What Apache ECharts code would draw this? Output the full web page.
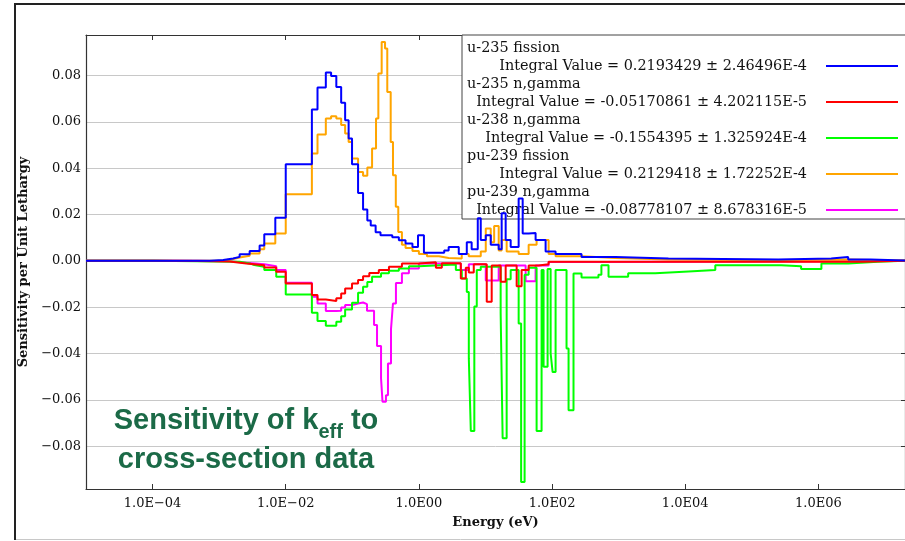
<!DOCTYPE html>
<html><head><meta charset="utf-8">
<script src="https://cdn.jsdelivr.net/npm/echarts@6/dist/echarts.min.js"></script>
<style>html,body{margin:0;padding:0;background:#fff}#c{width:905px;height:541px}</style>
</head><body><div id="c"></div>
<script>
// ---- data (energy group lower bound in eV, sensitivity per unit lethargy) ----
const energyMin = 1e-5;
const energyMax = 2e7;

const seriesNames = ['u-235 fission', 'u-235 n,gamma', 'u-238 n,gamma', 'pu-239 fission', 'pu-239 n,gamma'];
const seriesColors = ['#0000ff', '#ff0000', '#00ff00', '#ffa500', '#ff00ff'];
const integralValues = ['0.2193429 ± 2.46496E-4', '-0.05170861 ± 4.202115E-5', '-0.1554395 ± 1.325924E-4', '0.2129418 ± 1.72252E-4', '-0.08778107 ± 8.678316E-5'];

const u235Fission = [[1e-5,0],[7.2e-4,0.0004],[1.15e-3,0.0010],[1.62e-3,0.0017],[2.03e-3,0.0028],[2.87e-3,0.0042],[4.05e-3,0.0066],[4.76e-3,0.0115],[6.97e-3,0.0186],[0.01,0.0417],[0.0247,0.0653],[0.030,0.0748],[0.040,0.0813],[0.048,0.0798],[0.0575,0.0751],[0.068,0.0682],[0.078,0.0607],[0.088,0.0528],[0.099,0.0417],[0.122,0.0293],[0.145,0.0222],[0.168,0.0174],[0.189,0.0153],[0.224,0.0123],[0.265,0.0111],[0.398,0.0102],[0.5,0.0089],[0.63,0.0075],[0.8,0.0060],[0.97,0.0110],[1.19,0.0035],[2.4,0.0045],[2.8,0.0060],[3.97,0.0030],[5.24,0.0080],[6.2,0.0050],[7.66,0.0184],[8.49,0.0090],[10.1,0.0110],[12.0,0.0070],[15.8,0.0050],[17.5,0.0205],[20.1,0.0090],[23.9,0.0060],[31.5,0.0269],[36.2,0.0118],[44.5,0.0120],[56.6,0.0090],[80,0.0040],[113,0.0030],[277,0.0017],[890,0.0010],[5600,0.0006],[2.5e5,0.0010],[1.56e6,0.0017],[2.8e6,0.0006],[6.1e6,0.0002]];

const u235Capture = [[1e-5,0],[1e-4,-0.0001],[4.6e-4,-0.0003],[1.43e-3,-0.0011],[2.56e-3,-0.0019],[4.76e-3,-0.0029],[7.2e-3,-0.0047],[0.01,-0.0098],[0.0247,-0.0148],[0.030,-0.0167],[0.040,-0.0173],[0.0575,-0.0162],[0.068,-0.0141],[0.078,-0.0119],[0.099,-0.0098],[0.122,-0.0083],[0.145,-0.0066],[0.18,-0.0052],[0.25,-0.0040],[0.355,-0.0026],[0.556,-0.0011],[1.0,-0.0006],[1.8,-0.0030],[2.21,-0.0010],[4.26,-0.0076],[5.06,-0.0030],[5.62,-0.0050],[6.67,-0.0015],[10.45,-0.0177],[12.4,-0.0020],[16.9,-0.0090],[20.1,-0.0020],[29.4,-0.0110],[34.9,-0.0040],[44.5,-0.0020],[62.8,-0.0015],[88.8,-0.0004],[4.6e6,0]];

const u238Capture = [[1e-5,0],[1e-4,-0.0002],[4.6e-4,-0.0004],[2.03e-3,-0.0011],[2.87e-3,-0.0018],[3.37e-3,-0.0026],[4.76e-3,-0.0040],[7.2e-3,-0.0069],[0.01,-0.0145],[0.0247,-0.0224],[0.030,-0.0260],[0.040,-0.0280],[0.0575,-0.0263],[0.068,-0.0239],[0.078,-0.0210],[0.099,-0.0181],[0.122,-0.0138],[0.145,-0.0112],[0.168,-0.0091],[0.198,-0.0069],[0.27,-0.0054],[0.355,-0.0043],[0.5,-0.0033],[0.71,-0.0023],[1.0,-0.0016],[3.59,-0.0040],[4.41,-0.0076],[5.24,-0.0134],[5.62,-0.0420],[6.02,-0.0735],[6.8,-0.0197],[7.4,-0.0040],[8.49,-0.0026],[16.9,-0.0225],[18.1,-0.0766],[20.8,-0.0080],[23.9,-0.0040],[31.5,-0.0270],[34.3,-0.0955],[38.7,-0.0060],[44.5,-0.0030],[58.6,-0.0735],[69.6,-0.0040],[74.6,-0.0457],[85.7,-0.0035],[95.2,-0.0400],[102,-0.0480],[113,-0.0040],[165,-0.0378],[177,-0.0645],[210,-0.0055],[277,-0.0072],[497,-0.0060],[551,-0.0019],[705,-0.0069],[1390,-0.0054],[3540,-0.0046],[1.12e4,-0.0040],[2.83e4,-0.0019],[2.76e5,-0.0023],[5.5e5,-0.0035],[1.11e6,-0.0011],[2.8e6,-0.0004],[7.8e6,0]];

const pu239Fission = [[1e-5,0],[4.6e-4,0.0002],[1.15e-3,0.0008],[1.62e-3,0.0014],[2.03e-3,0.0022],[2.87e-3,0.0032],[4.05e-3,0.0050],[4.76e-3,0.0075],[6.97e-3,0.0118],[0.01,0.0288],[0.0247,0.0463],[0.030,0.0545],[0.040,0.0614],[0.048,0.0624],[0.0575,0.0614],[0.068,0.0586],[0.078,0.0550],[0.088,0.0513],[0.099,0.0442],[0.122,0.0384],[0.145,0.0367],[0.168,0.0403],[0.198,0.0485],[0.227,0.0614],[0.246,0.0809],[0.276,0.0945],[0.31,0.0917],[0.335,0.0729],[0.377,0.0513],[0.408,0.0370],[0.45,0.0233],[0.49,0.0125],[0.556,0.0070],[0.63,0.0055],[0.8,0.0042],[1.0,0.0030],[1.32,0.0020],[2.0,0.0012],[2.8,0.0010],[4.4,0.0030],[5.6,0.0020],[8.5,0.0040],[10.1,0.0140],[12.0,0.0080],[13.5,0.0150],[15.8,0.0045],[17.5,0.0090],[20.8,0.0040],[31.5,0.0030],[44.5,0.0070],[58.6,0.0090],[88.8,0.0030],[113,0.0020],[277,0.0012],[890,0.0006],[5600,0.0004],[2.5e5,0.0006],[2.8e6,0.0004],[6.1e6,0.0001]];

const pu239Capture = [[1e-5,0],[4.6e-4,-0.0002],[1.43e-3,-0.0008],[2.56e-3,-0.0015],[4.76e-3,-0.0023],[7.2e-3,-0.0040],[0.01,-0.0095],[0.0247,-0.0155],[0.030,-0.0184],[0.040,-0.0217],[0.0575,-0.0216],[0.068,-0.0201],[0.078,-0.0191],[0.099,-0.0184],[0.122,-0.0180],[0.145,-0.0187],[0.166,-0.0216],[0.212,-0.0277],[0.235,-0.0368],[0.27,-0.0507],[0.284,-0.0608],[0.32,-0.0580],[0.343,-0.0443],[0.381,-0.0295],[0.408,-0.0184],[0.452,-0.0096],[0.556,-0.0054],[0.708,-0.0033],[1.0,-0.0012],[4.26,-0.0040],[5.62,-0.0015],[10.1,-0.0085],[15.8,-0.0020],[40.1,-0.0088],[56.6,-0.0020],[88.8,-0.0005],[497,-0.0002],[3.9e6,0]];

const seriesData = [u235Fission, u235Capture, u238Capture, pu239Fission, pu239Capture];

// ---- chart ----
const SERIF = 'DejaVu Serif';
const chart = echarts.init(document.getElementById('c'), null, {renderer: 'canvas'});

function withUpperBound(groups) {
  return groups.concat([[energyMax, groups[groups.length - 1][1]]]);
}
function fmtE(v) {
  const e = Math.round(Math.log10(v));
  return '1.0E' + (e < 0 ? '\u2212' : '') + String(Math.abs(e)).padStart(2, '0');
}
function fmtY(v) {
  return (v < -1e-9 ? '\u2212' : '') + Math.abs(v).toFixed(2);
}

const drawOrder = [4, 3, 2, 1, 0];
const series = drawOrder.map(i => ({
  name: seriesNames[i],
  type: 'line',
  step: 'end',
  showSymbol: false,
  color: seriesColors[i],
  lineStyle: {width: 2, color: seriesColors[i]},
  data: withUpperBound(seriesData[i]),
  animation: false,
  z: 2
}));

const axisLineStyle = {color: '#333', width: 1.2};
const xCommon = {
  type: 'log', logBase: 100, min: energyMin, max: energyMax,
  splitLine: {show: false},
  axisLine: {show: true, onZero: false, lineStyle: axisLineStyle},
  axisTick: {show: true, inside: true, length: 5, lineStyle: {color: '#333'}}
};
const yCommon = {
  type: 'value', min: -0.0985, max: 0.0975, splitNumber: 10,
  axisLine: {show: true, onZero: false, lineStyle: axisLineStyle}
};

const LEG_FS = 14.4;
const legendRich = {
  n: {fontFamily: SERIF, fontSize: LEG_FS, lineHeight: 18, color: '#111', align: 'left'},
  v: {fontFamily: SERIF, fontSize: LEG_FS, lineHeight: 18, color: '#111', align: 'right', padding: [0, 14, 0, 0]}
};

chart.setOption({
  animation: false,
  backgroundColor: '#fff',
  grid: {left: 86, right: -2, top: 35, bottom: 52, containLabel: false},
  xAxis: [
    Object.assign({}, xCommon, {
      position: 'bottom',
      name: 'Energy (eV)', nameLocation: 'middle', nameGap: 27,
      nameTextStyle: {fontFamily: SERIF, fontSize: 13, fontWeight: 'bold', color: '#111'},
      axisLabel: {show: true, formatter: fmtE, fontFamily: SERIF, fontSize: 13, color: '#111', margin: 8, showMinLabel: false, showMaxLabel: false}
    }),
    Object.assign({}, xCommon, {position: 'top', axisLabel: {show: false}})
  ],
  yAxis: [
    Object.assign({}, yCommon, {
      position: 'left',
      name: 'Sensitivity per Unit Lethargy', nameLocation: 'middle', nameGap: 53,
      nameTextStyle: {fontFamily: SERIF, fontSize: 13, fontWeight: 'bold', color: '#111'},
      axisTick: {show: false},
      splitLine: {show: true, lineStyle: {color: '#c8c8c8', width: 1}},
      axisLabel: {formatter: fmtY, fontFamily: SERIF, fontSize: 13, color: '#111', margin: 5, showMinLabel: false, showMaxLabel: false}
    }),
    Object.assign({}, yCommon, {
      position: 'right',
      axisTick: {show: true, inside: true, length: 4, lineStyle: {color: '#333'}},
      splitLine: {show: false},
      axisLabel: {show: false}
    })
  ],
  legend: {
    orient: 'vertical', left: 462, top: 35, z: 1,
    data: seriesNames,
    selectedMode: false,
    backgroundColor: '#fff', borderColor: '#444', borderWidth: 1, borderRadius: 0,
    padding: [4, 12, 0, 5],
    itemGap: 0, itemWidth: 72, itemHeight: 36,
    align: 'right',
    icon: 'path://M0,0h0.01v0.01z M72,36h-0.01v-0.01z M0,26L72,26L72,28L0,28Z',
    itemStyle: {borderWidth: 0},
    formatter: name => '{n|' + name + '}\n{v|Integral Value = ' + integralValues[seriesNames.indexOf(name)] + '}',
    textStyle: {width: 354, fontFamily: SERIF, fontSize: LEG_FS, lineHeight: 18, rich: legendRich}
  },
  graphic: [
    {type: 'line', shape: {x1: 15, y1: 3, x2: 15, y2: 540}, style: {stroke: '#222', lineWidth: 2}, z: 10},
    {type: 'line', shape: {x1: 14, y1: 4, x2: 905, y2: 4}, style: {stroke: '#222', lineWidth: 2}, z: 10},
    {type: 'line', shape: {x1: 16, y1: 539.5, x2: 905, y2: 539.5}, style: {stroke: '#c8c8c8', lineWidth: 1}, z: 10},
    {
      type: 'text', x: 246, y: 400, z: 10,
      style: {
        text: '{a|Sensitivity of k}{s|eff}{a| to}\n{a|cross-section data}',
        align: 'center', verticalAlign: 'top',
        rich: {
          a: {fontFamily: 'Liberation Sans', fontWeight: 'bold', fontSize: 29, lineHeight: 35, fill: '#1b6a47'},
          s: {fontFamily: 'Liberation Sans', fontWeight: 'bold', fontSize: 20, lineHeight: 42, verticalAlign: 'bottom', fill: '#1b6a47'}
        }
      }
    }
  ],
  series: series
});
</script>
</body></html>
